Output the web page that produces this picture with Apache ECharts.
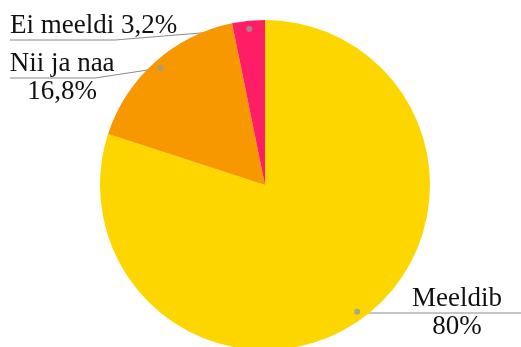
<!DOCTYPE html>
<html>
<head>
<meta charset="utf-8">
<script src="https://cdn.jsdelivr.net/npm/echarts@6/dist/echarts.min.js"></script>
<style>
  html, body { margin: 0; padding: 0; background: #fff; }
  #chart { width: 521px; height: 347px; }
</style>
</head>
<body>
<div id="chart"></div>
<script>
// Survey answers and their shares (percent)
const answers = ['Meeldib', 'Nii ja naa', 'Ei meeldi'];
const shares = [80, 16.8, 3.2];
const sliceColors = ['#FDD600', '#F89800', '#FF1D66'];

// Pie geometry (px)
const CX = 265, CY = 185, R = 165;
const DOT_R = 0.95; // leader dots sit just inside the rim

// Where each label sits: side, height of the underline, where the leader bends
const labelSpots = [
  { align: 'center', x: 457, lineY: 313, bendX: 370, endX: 521, oneLine: false },
  { align: 'left', x: 10, lineY: 78, bendX: 95, endX: 10, oneLine: false },
  { align: 'left', x: 10, lineY: 40, bendX: 115, endX: 10, oneLine: true }
];

const fmtPct = v => String(v).replace('.', ',') + '%';

// Mid-angle of each slice, in share units from 12 o'clock clockwise
const total = shares.reduce((a, b) => a + b, 0);
const mids = [];
let acc = 0;
shares.forEach(v => { mids.push(acc + v / 2); acc += v; });

function dotPoint(i) {
  const a = mids[i] / total * 2 * Math.PI;
  return [CX + DOT_R * R * Math.sin(a), CY - DOT_R * R * Math.cos(a)];
}

const chart = echarts.init(document.getElementById('chart'), null, { renderer: 'canvas' });

const textStyle = { fontFamily: 'Liberation Serif, Times New Roman, serif', fontSize: 27, color: '#111111', lineHeight: 28, align: 'center' };

chart.setOption({
  animation: false,
  backgroundColor: '#ffffff',
  polar: { center: [CX, CY], radius: R },
  angleAxis: { type: 'value', min: 0, max: total, startAngle: 90, clockwise: true, show: false },
  radiusAxis: { type: 'value', min: 0, max: 1, show: false },
  series: [
    {
      type: 'pie',
      center: [CX, CY],
      radius: [0, R],
      startAngle: 90,
      clockwise: true,
      silent: true,
      data: answers.map((name, i) => ({ name, value: shares[i], itemStyle: { color: sliceColors[i] } })),
      itemStyle: { borderWidth: 0 },
      label: {
        show: true,
        position: 'outside',
        overflow: 'none',
        formatter: p => labelSpots[p.dataIndex].oneLine
          ? '{t|' + p.name + ' ' + fmtPct(p.value) + '}'
          : '{t|' + p.name + '}\n{t|' + fmtPct(p.value) + '}',
        rich: { t: textStyle }
      },
      labelLine: { show: true, lineStyle: { color: '#8a8a8a', width: 1 } },
      labelLayout: p => {
        const s = labelSpots[p.dataIndex];
        const dot = dotPoint(p.dataIndex);
        return {
          x: s.x,
          y: s.oneLine ? s.lineY - 14 : s.lineY,
          align: s.align,
          verticalAlign: 'middle',
          labelLinePoints: [dot, [s.bendX, s.lineY], [s.endX, s.lineY]]
        };
      }
    },
    {
      type: 'scatter',
      coordinateSystem: 'polar',
      silent: true,
      z: 5,
      symbol: 'circle',
      symbolSize: 6,
      itemStyle: { color: '#9a9a9a' },
      data: mids.map(m => [DOT_R, m])
    }
  ]
});
</script>
</body>
</html>
